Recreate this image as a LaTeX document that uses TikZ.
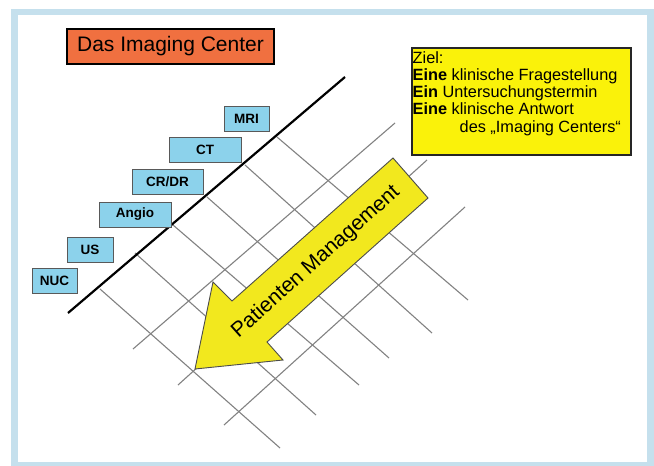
\documentclass[tikz,border=0pt]{standalone}
\usepackage{fontspec}
\setmainfont{Liberation Sans}

% 颜色定义
\definecolor{rahmenblau}{RGB}{197,224,237}
\definecolor{titelorange}{RGB}{240,112,64}
\definecolor{geraetblau}{RGB}{140,210,235}
\definecolor{zielgelb}{RGB}{250,242,10}
\definecolor{pfeilgelb}{RGB}{242,232,30}
\definecolor{gittergrau}{RGB}{130,130,130}

\begin{document}
\begin{tikzpicture}[x=1pt, y=-1pt, % 以像素为单位，y 轴向下
  geraet/.style={draw=black!65, fill=geraetblau, line width=0.9pt,
    font=\fontsize{13.5}{14}\selectfont\bfseries, minimum height=25pt, inner sep=0pt},
  gitter/.style={draw=gittergrau, line width=1.1pt},
  schild/.style={draw=black!85, line width=1.8pt, fill=zielgelb}
]
  \useasboundingbox (0,0) rectangle (654,466);

  % =============== 外框 ===============
  \fill[rahmenblau] (11,9) rectangle (654,466);
  \fill[white] (18,15) rectangle (647,462);

  % =============== 标题 ===============
  \node[draw=black, line width=2.6pt, fill=titelorange, minimum width=207pt,
    minimum height=35pt, inner sep=0pt, font=\fontsize{21}{24}\selectfont]
    (titel) at (170.5,46.5) {Das Imaging Center};

  % =============== 网格 (斜向细线) ===============
  % 右下方向的六条线
  \foreach \xa/\ya/\xb/\yb in {277/137/468/300, 245/165/432/333, 207/197/389/358,
      173/225/359/385, 135/253/316/415, 100/289/280/448}
    \draw[gitter] (\xa,\ya) -- (\xb,\yb);
  % 右上方向的三条线
  \foreach \xa/\ya/\xb/\yb in {133/349/395/123, 178/385/427/160, 224/425/465/207}
    \draw[gitter] (\xa,\ya) -- (\xb,\yb);

  % 粗黑对角线
  \draw[line width=2.2pt, black] (68,313) -- (345,77);

  % =============== 设备方框 ===============
  \node[geraet, minimum width=45pt] (mri)   at (246.5,119)   {MRI};
  \node[geraet, minimum width=72pt] (ct)    at (205,150)     {CT};
  \node[geraet, minimum width=71pt] (crdr)  at (167.5,182)   {CR/DR};
  \node[geraet, minimum width=72pt] (angio) at (135,214.5)   {Angio};
  \node[geraet, minimum width=46pt] (us)    at (90,250)      {US};
  \node[geraet, minimum width=45pt] (nuc)   at (54.5,280.5)  {NUC};

  % =============== 黄色大箭头 ===============
  \coordinate (spitze) at (195,369);
  \draw[draw=black!70, line width=0.9pt, fill=pfeilgelb]
    (spitze) -- (213,282) -- (232,301) -- (393,158) -- (428,198)
    -- (267,342) -- (283,360) -- cycle;
  \node[rotate=41.8, font=\fontsize{21}{24}\selectfont, inner sep=0pt]
    (patient) at (316,262) {Patienten Management};

  % =============== 目标说明框 ===============
  \node[schild, minimum width=219pt, minimum height=107pt, anchor=north west]
    (ziel) at (411,47) {};
  \node[anchor=north west, inner sep=0pt, align=left,
    font=\fontsize{16.3}{17.3}\selectfont] (zieltext) at (412.5,51)
    {Ziel:\\
     \textbf{Eine} klinische Fragestellung\\
     \textbf{Ein} Untersuchungstermin\\
     \textbf{Eine} klinische Antwort\\
     \hspace*{47pt}des „Imaging Centers“};

\end{tikzpicture}
\end{document}
